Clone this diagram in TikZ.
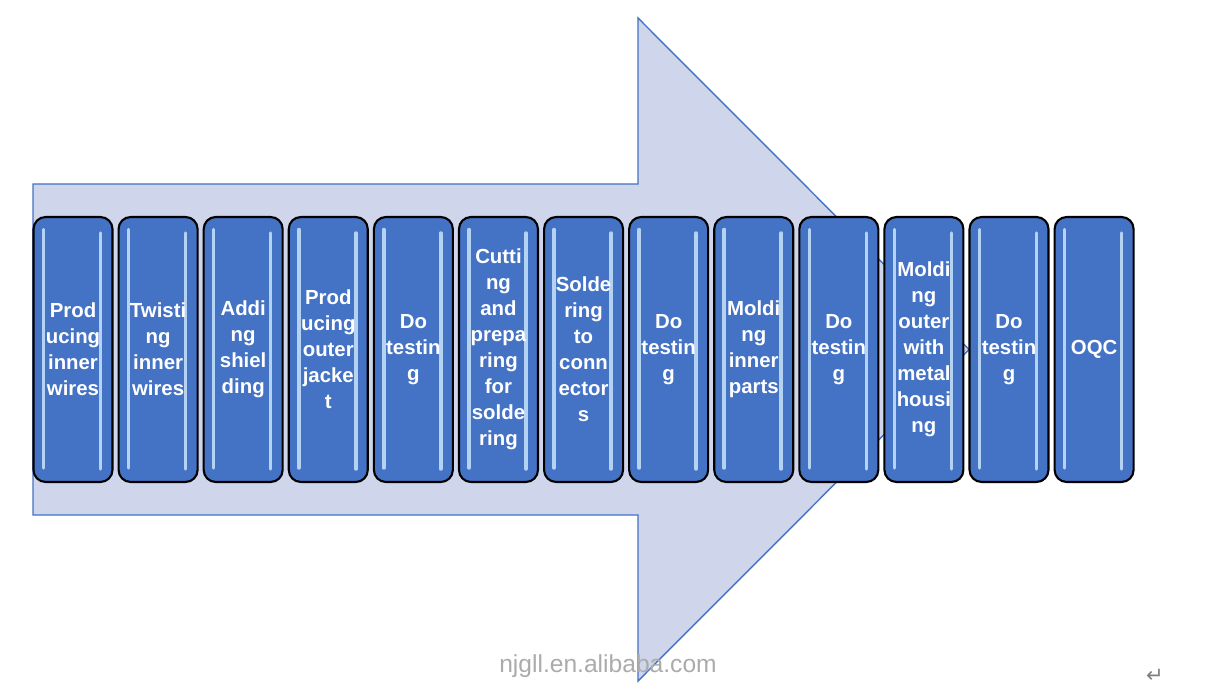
\documentclass[tikz,border=0pt]{standalone}
\usepackage{fontspec}
\setmainfont{Liberation Sans}
\newfontfamily\symfont{DejaVu Sans}
\usetikzlibrary{positioning}

\definecolor{arrowfill}{RGB}{207,213,234}
\definecolor{arrowline}{RGB}{68,114,196}
\definecolor{stepblue}{RGB}{68,114,196}
\definecolor{glossline}{RGB}{180,210,242}

\begin{document}
\begin{tikzpicture}[
        x=0.02cm, y=-0.02cm,
        node distance=0.08cm,
        % Style for the big background arrow
        bigArrow/.style={
            draw=arrowline, line width=0.8pt, fill=arrowfill, line join=miter
        },
        % Style for the process steps
        stepbox/.style={
            rectangle, draw=black, line width=1.2pt, fill=stepblue,
            rounded corners=0.24cm, minimum width=1.58cm, minimum height=5.30cm,
            align=center, text=white, inner sep=0pt,
            font=\bfseries\fontsize{11.6}{14.8}\selectfont,
            path picture={
                \draw[glossline, line width=2pt, line cap=round]
                    ([xshift=0.2cm, yshift=-0.25cm]path picture bounding box.north west)
                    -- ([xshift=0.2cm, yshift=0.28cm]path picture bounding box.south west);
                \draw[glossline, line width=2pt, line cap=round]
                    ([xshift=-0.24cm, yshift=-0.32cm]path picture bounding box.north east)
                    -- ([xshift=-0.24cm, yshift=0.26cm]path picture bounding box.south east);
            }
        },
        watermark/.style={text=black!33, font=\fontsize{14}{16}\selectfont}
    ]

        \useasboundingbox (0,0) rectangle (1216,689);

        % --- The arrow behind the steps ---
        \draw [bigArrow] (33,184) -- (638,184) -- (638,18) -- (969,349.5)
            -- (638,681) -- (638,515) -- (33,515) -- cycle;

        % --- Nodes ---
        \node [stepbox] (s1) at (73,349.5) {Prod\\ucing\\inner\\wires};
        \node [stepbox, right=of s1] (s2) {Twisti\\ng\\inner\\wires};
        \node [stepbox, right=of s2] (s3) {Addi\\ng\\shiel\\ding};
        \node [stepbox, right=of s3] (s4) {Prod\\ucing\\outer\\jacke\\t};
        \node [stepbox, right=of s4] (s5) {Do\\testin\\g};
        \node [stepbox, right=of s5] (s6) {Cutti\\ng\\and\\prepa\\ring\\for\\solde\\ring};
        \node [stepbox, right=of s6] (s7) {Solde\\ring\\to\\conn\\ector\\s};
        \node [stepbox, right=of s7] (s8) {Do\\testin\\g};
        \node [stepbox, right=of s8] (s9) {Moldi\\ng\\inner\\parts};
        \node [stepbox, right=of s9] (s10) {Do\\testin\\g};
        \node [stepbox, right=of s10] (s11) {Moldi\\ng\\outer\\with\\metal\\housi\\ng};
        \node [stepbox, right=of s11] (s12) {Do\\testin\\g};
        \node [stepbox, right=of s12] (s13) {OQC};

        % Watermark and paragraph mark
        \node [watermark] (mark) at (608,666) {njgll.en.alibaba.com};
        \node [text=black!50, font=\symfont\fontsize{12}{13}\selectfont] (ret) at (1155,676) {↵};

    \end{tikzpicture}
\end{document}
